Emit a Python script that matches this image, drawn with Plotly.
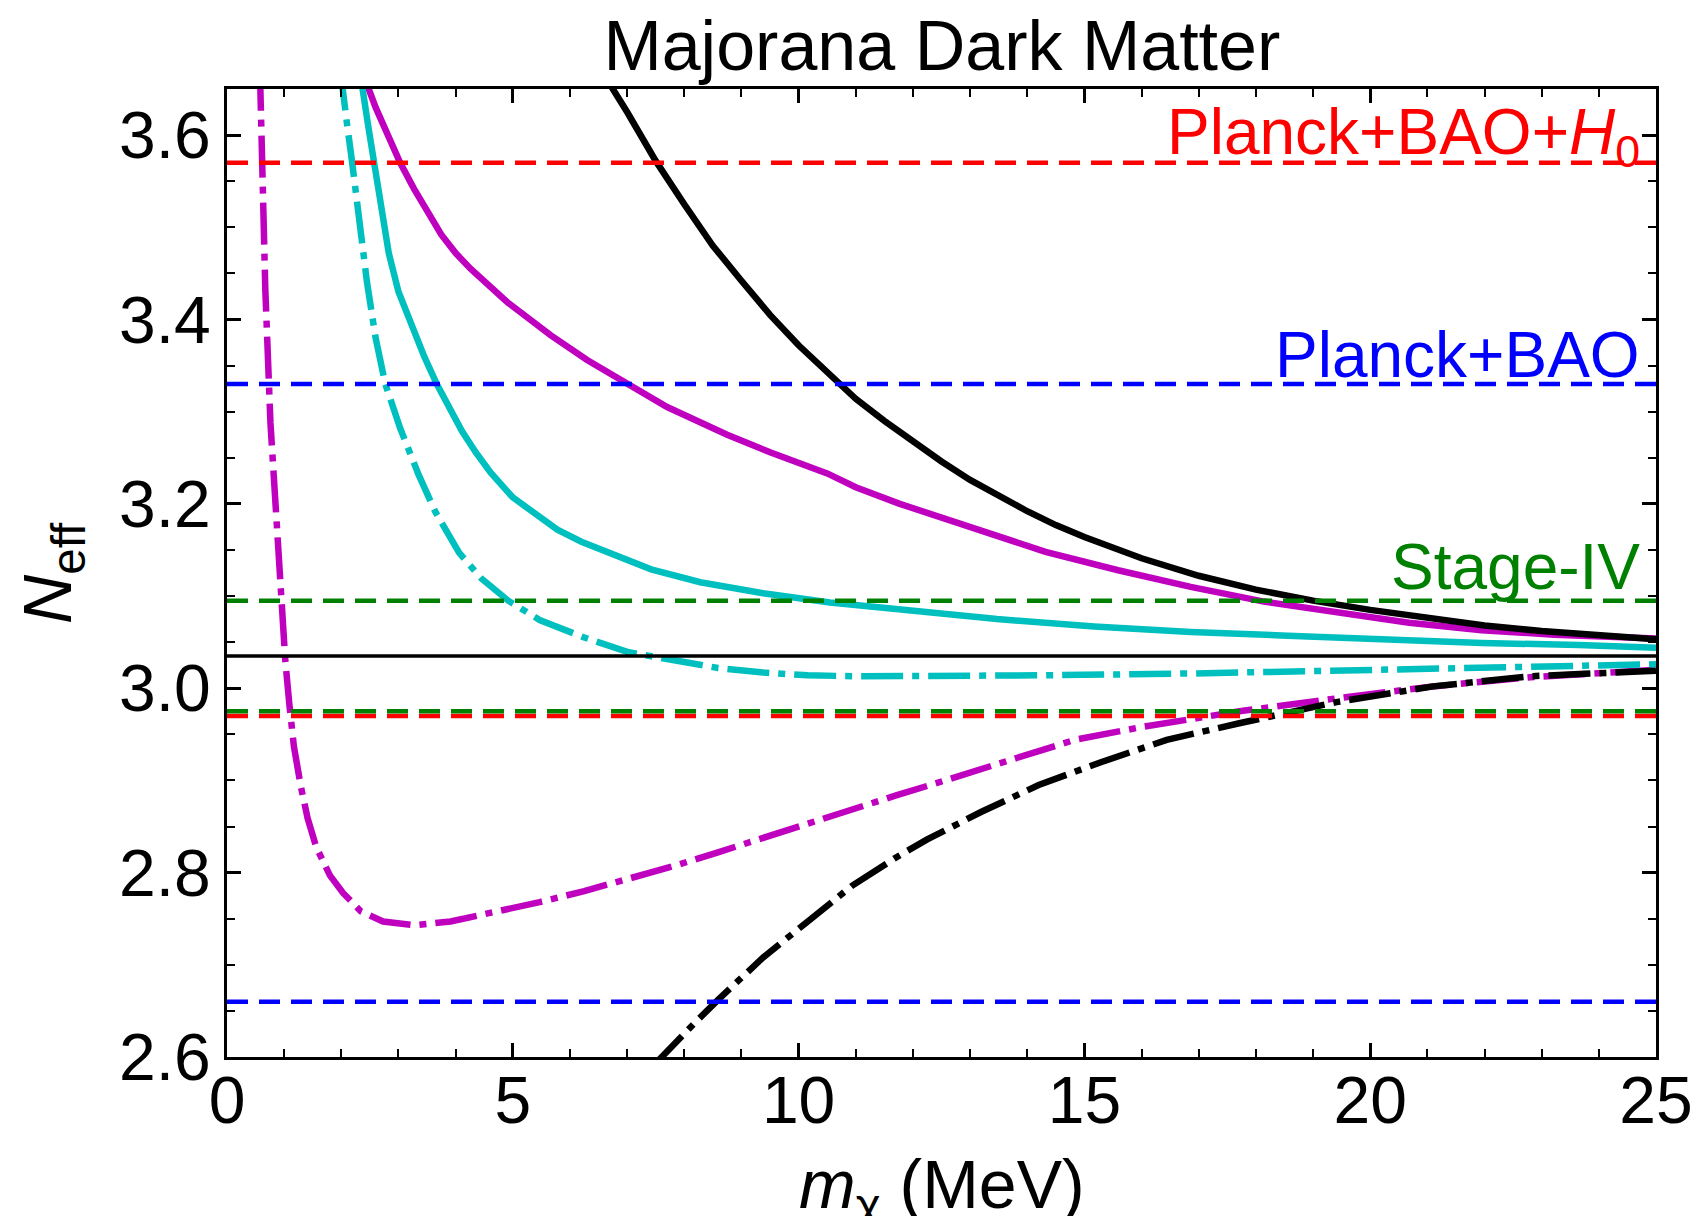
import plotly.graph_objects as go

# ---- curves: N_eff versus dark-matter mass (MeV) ----
black_solid_m = [6.55, 6.7, 7.0, 7.5, 8.0, 8.5, 9.0, 9.5, 10.0, 10.5, 11.0, 11.5, 12.0, 12.5,
                 13.0, 13.5, 14.0, 14.5, 15.0, 16.0, 17.0, 18.0, 19.0, 20.0, 21.0, 22.0,
                 23.0, 24.0, 25.0]
black_solid_n = [3.672, 3.655, 3.625, 3.572, 3.525, 3.480, 3.442, 3.405, 3.372, 3.342, 3.314,
                 3.290, 3.267, 3.246, 3.226, 3.208, 3.192, 3.177, 3.164, 3.141, 3.122, 3.107,
                 3.095, 3.085, 3.076, 3.068, 3.062, 3.057, 3.053]

magenta_solid_m = [2.40, 2.45, 2.6, 2.83, 3.03, 3.27, 3.5, 3.75, 4.0, 4.26, 4.9, 5.66, 6.3,
                   7.0, 7.7, 8.75, 9.5, 10.5, 11.0, 11.77, 13.05, 14.32, 15.59, 16.86, 18.14,
                   19.41, 20.68, 21.95, 23.22, 25.0]
magenta_solid_n = [3.672, 3.655, 3.630, 3.596, 3.570, 3.542, 3.517, 3.492, 3.472, 3.455, 3.419,
                   3.383, 3.356, 3.330, 3.305, 3.275, 3.256, 3.233, 3.218, 3.200, 3.173, 3.148,
                   3.128, 3.110, 3.094, 3.082, 3.071, 3.063, 3.058, 3.054]

cyan_solid_m = [2.33, 2.36, 2.47, 2.57, 2.65, 2.73, 2.83, 3.0, 3.24, 3.45, 3.67, 3.9, 4.11,
                4.35, 4.61, 5.0, 5.4, 5.78, 6.2, 6.64, 7.42, 8.28, 9.38, 10.55, 11.77, 13.47,
                15.17, 16.86, 18.56, 20.26, 21.95, 23.65, 25.0]
cyan_solid_n = [3.672, 3.655, 3.610, 3.570, 3.536, 3.505, 3.472, 3.430, 3.392, 3.360, 3.330,
                3.302, 3.279, 3.256, 3.234, 3.207, 3.188, 3.172, 3.159, 3.148, 3.129, 3.115,
                3.103, 3.093, 3.085, 3.075, 3.067, 3.061, 3.057, 3.053, 3.049, 3.047, 3.044]

cyan_dashdot_m = [1.98, 2.01, 2.10, 2.19, 2.32, 2.45, 2.60, 2.77, 3.03, 3.35, 3.64, 4.06, 4.45,
                  4.92, 5.47, 6.25, 7.03, 7.81, 8.59, 9.38, 10.16, 11.0, 12.25, 14.32, 16.86,
                  19.41, 21.95, 23.65, 25.0]
cyan_dashdot_n = [3.672, 3.655, 3.612, 3.570, 3.505, 3.440, 3.380, 3.330, 3.282, 3.232, 3.192,
                  3.147, 3.119, 3.095, 3.074, 3.055, 3.039, 3.030, 3.022, 3.017, 3.014, 3.013,
                  3.013, 3.014, 3.016, 3.019, 3.022, 3.024, 3.026]

magenta_dashdot_m = [0.575, 0.58, 0.67, 0.76, 0.845, 0.90, 0.98, 1.02, 1.09, 1.17, 1.29, 1.41,
                     1.56, 1.80, 2.03, 2.34, 2.73, 3.28, 3.91, 4.69, 5.47, 6.25, 7.03, 7.81,
                     8.59, 9.38, 10.16, 10.94, 11.72, 12.25, 13.5, 14.83, 16.01, 17.71, 19.41,
                     21.10, 22.80, 25.0]
magenta_dashdot_n = [3.672, 3.655, 3.433, 3.288, 3.194, 3.144, 3.076, 3.030, 2.983, 2.937,
                     2.894, 2.859, 2.828, 2.797, 2.778, 2.758, 2.747, 2.743, 2.747, 2.757,
                     2.768, 2.780, 2.793, 2.807, 2.822, 2.838, 2.853, 2.869, 2.884, 2.894,
                     2.918, 2.944, 2.958, 2.975, 2.989, 3.002, 3.012, 3.020]

black_dashdot_m = [7.45, 7.54, 8.20, 8.59, 9.38, 10.16, 10.94, 11.72, 12.25, 13.2, 14.2, 15.3,
                   16.44, 17.71, 19.41, 21.10, 22.80, 25.0]
black_dashdot_n = [2.590, 2.596, 2.638, 2.662, 2.708, 2.747, 2.786, 2.817, 2.836, 2.866, 2.895,
                   2.920, 2.944, 2.962, 2.985, 3.002, 3.013, 3.019]

# ---- reference values of N_eff ----
n_sm = 3.035
planck_bao_h0 = [2.97, 3.57]
planck_bao = [2.66, 3.33]
stage_iv = [2.975, 3.095]

x_range = [0, 25]
y_range = [2.6, 3.65]
x_ticks = [0, 5, 10, 15, 20, 25]
y_ticks = [2.6, 2.8, 3.0, 3.2, 3.4, 3.6]

FONT = "Liberation Sans"
DASHDOT = "42px,9px,7px,9px"
DASHED = "21px,11px"

fig = go.Figure()


def curve(xs, ys, color, dash=None, width=6.5):
    fig.add_trace(go.Scatter(
        x=xs, y=ys, mode="lines",
        line=dict(color=color, width=width, dash=dash),
        showlegend=False, hoverinfo="skip"))


curve(magenta_dashdot_m, magenta_dashdot_n, "#bf00bf", DASHDOT)
curve(magenta_solid_m, magenta_solid_n, "#bf00bf")
curve(cyan_dashdot_m, cyan_dashdot_n, "#00bfbf", DASHDOT)
curve(cyan_solid_m, cyan_solid_n, "#00bfbf")
curve(black_dashdot_m, black_dashdot_n, "black", DASHDOT)
curve(black_solid_m, black_solid_n, "black")

# horizontal bands
for level in planck_bao_h0:
    curve(x_range, [level, level], "red", DASHED, 4.5)
for level in planck_bao:
    curve(x_range, [level, level], "blue", DASHED, 4.5)
for level in stage_iv:
    curve(x_range, [level, level], "green", DASHED, 4.5)
curve(x_range, [n_sm, n_sm], "black", None, 3.5)

labels = [
    ("Planck+BAO+<i>H</i><sub>0</sub>", 3.599, "red"),
    ("Planck+BAO", 3.362, "blue"),
    ("Stage-IV", 3.132, "green"),
]
for text, y, color in labels:
    fig.add_annotation(x=0.990, xref="paper", y=y, yref="y", text=text,
                       showarrow=False, xanchor="right", yanchor="middle",
                       font=dict(family=FONT, size=64, color=color))

# axis titles, placed below / left of the tick labels
title_font = dict(family=FONT, size=68, color="black")
fig.add_annotation(x=0.5, xref="paper", y=-0.136, yref="paper",
                   text="<i>m</i><sub>χ</sub> (MeV)", showarrow=False,
                   xanchor="center", yanchor="middle", font=title_font)
fig.add_annotation(x=-0.1225, xref="paper", y=0.5, yref="paper",
                   text="<i>N</i><sub>eff</sub>", showarrow=False, textangle=-90,
                   xanchor="center", yanchor="middle", font=title_font)

axis_common = dict(
    showline=True, linecolor="black", linewidth=3, mirror="allticks",
    ticks="inside", ticklen=14, tickwidth=2.5, tickcolor="black",
    showgrid=False, zeroline=False,
    tickfont=dict(family=FONT, size=66, color="black"),
)

fig.update_xaxes(
    range=x_range, tickvals=x_ticks, ticktext=[str(v) for v in x_ticks],
    ticklabelstandoff=-16,
    minor=dict(ticks="inside", ticklen=8, tickwidth=2, dtick=1, tickcolor="black", showgrid=False),
    **axis_common)
fig.update_yaxes(
    range=y_range, tickvals=y_ticks, ticktext=[f"{v:.1f}" for v in y_ticks],
    minor=dict(ticks="inside", ticklen=8, tickwidth=2, dtick=0.05, tick0=2.6,
               tickcolor="black", showgrid=False),
    **axis_common)

fig.update_layout(
    width=1697, height=1216,
    margin=dict(l=227, r=41, t=89, b=159, autoexpand=False),
    paper_bgcolor="white", plot_bgcolor="white",
    title=dict(text="Majorana Dark Matter", x=0.555, xanchor="center",
               y=1 - 45 / 1216, yanchor="middle", yref="container",
               font=dict(family=FONT, size=70, color="black")),
)

fig.write_html("out.html")
